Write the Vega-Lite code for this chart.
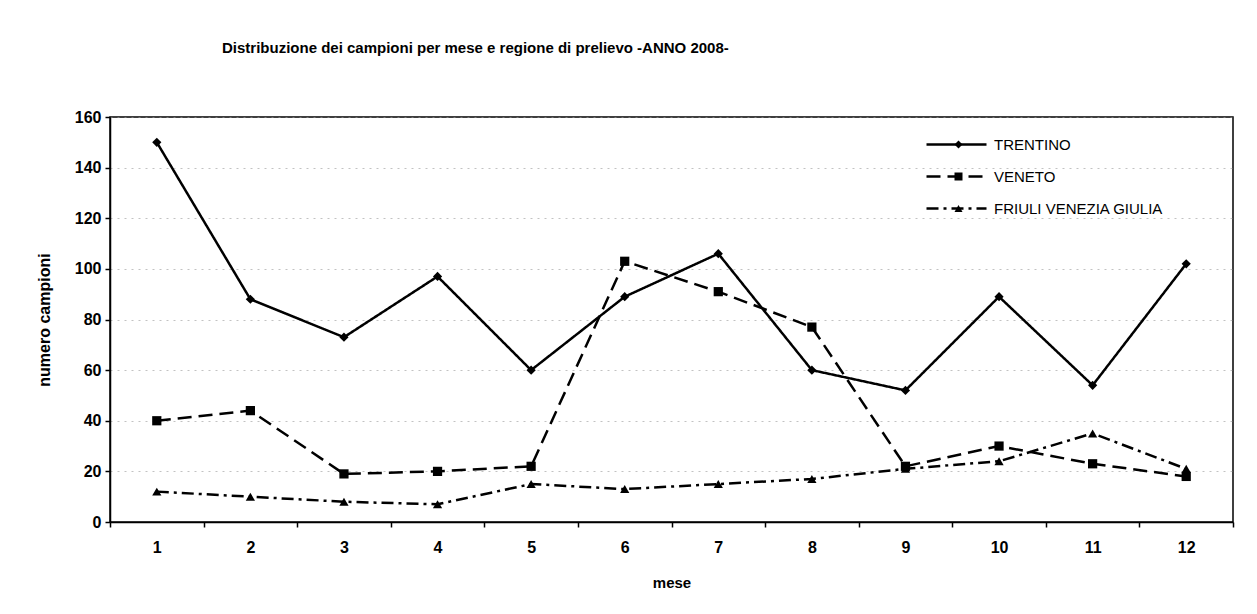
{
  "$schema": "https://vega.github.io/schema/vega-lite/v6.json",
  "width": 1123,
  "height": 405,
  "autosize": {"type": "none"},
  "padding": {"left": 110, "top": 117, "right": 24, "bottom": 92},
  "background": "white",
  "config": {
    "font": "Liberation Sans",
    "view": {"stroke": "#000", "strokeWidth": 1.5}
  },
  "title": {
    "text": "Distribuzione dei campioni per mese e regione di prelievo -ANNO 2008-",
    "anchor": "start",
    "frame": "group",
    "dx": 112,
    "offset": 53,
    "fontSize": 15,
    "fontWeight": "bold",
    "color": "#000"
  },
  "data": {
    "values": [
      {"mese": 1, "regione": "TRENTINO", "campioni": 150},
      {"mese": 2, "regione": "TRENTINO", "campioni": 88},
      {"mese": 3, "regione": "TRENTINO", "campioni": 73},
      {"mese": 4, "regione": "TRENTINO", "campioni": 97},
      {"mese": 5, "regione": "TRENTINO", "campioni": 60},
      {"mese": 6, "regione": "TRENTINO", "campioni": 89},
      {"mese": 7, "regione": "TRENTINO", "campioni": 106},
      {"mese": 8, "regione": "TRENTINO", "campioni": 60},
      {"mese": 9, "regione": "TRENTINO", "campioni": 52},
      {"mese": 10, "regione": "TRENTINO", "campioni": 89},
      {"mese": 11, "regione": "TRENTINO", "campioni": 54},
      {"mese": 12, "regione": "TRENTINO", "campioni": 102},
      {"mese": 1, "regione": "VENETO", "campioni": 40},
      {"mese": 2, "regione": "VENETO", "campioni": 44},
      {"mese": 3, "regione": "VENETO", "campioni": 19},
      {"mese": 4, "regione": "VENETO", "campioni": 20},
      {"mese": 5, "regione": "VENETO", "campioni": 22},
      {"mese": 6, "regione": "VENETO", "campioni": 103},
      {"mese": 7, "regione": "VENETO", "campioni": 91},
      {"mese": 8, "regione": "VENETO", "campioni": 77},
      {"mese": 9, "regione": "VENETO", "campioni": 22},
      {"mese": 10, "regione": "VENETO", "campioni": 30},
      {"mese": 11, "regione": "VENETO", "campioni": 23},
      {"mese": 12, "regione": "VENETO", "campioni": 18},
      {"mese": 1, "regione": "FRIULI VENEZIA GIULIA", "campioni": 12},
      {"mese": 2, "regione": "FRIULI VENEZIA GIULIA", "campioni": 10},
      {"mese": 3, "regione": "FRIULI VENEZIA GIULIA", "campioni": 8},
      {"mese": 4, "regione": "FRIULI VENEZIA GIULIA", "campioni": 7},
      {"mese": 5, "regione": "FRIULI VENEZIA GIULIA", "campioni": 15},
      {"mese": 6, "regione": "FRIULI VENEZIA GIULIA", "campioni": 13},
      {"mese": 7, "regione": "FRIULI VENEZIA GIULIA", "campioni": 15},
      {"mese": 8, "regione": "FRIULI VENEZIA GIULIA", "campioni": 17},
      {"mese": 9, "regione": "FRIULI VENEZIA GIULIA", "campioni": 21},
      {"mese": 10, "regione": "FRIULI VENEZIA GIULIA", "campioni": 24},
      {"mese": 11, "regione": "FRIULI VENEZIA GIULIA", "campioni": 35},
      {"mese": 12, "regione": "FRIULI VENEZIA GIULIA", "campioni": 21}
    ]
  },
  "encoding": {
    "x": {
      "field": "mese",
      "type": "ordinal",
      "bandPosition": 0.5,
      "scale": {"type": "band", "paddingInner": 0, "paddingOuter": 0},
      "axis": {
        "title": "mese",
        "labelAngle": 0,
        "tickBand": "extent",
        "tickSize": 5,
        "tickColor": "#000",
        "tickWidth": 1.5,
        "domainColor": "#000",
        "domainWidth": 1.5,
        "labelFontSize": 16,
        "labelFontWeight": "bold",
        "labelColor": "#000",
        "labelPadding": 12,
        "titleFontSize": 15,
        "titleFontWeight": "bold",
        "titleColor": "#000",
        "titlePadding": 20,
        "grid": false
      }
    },
    "y": {
      "field": "campioni",
      "type": "quantitative",
      "scale": {"domain": [0, 160], "nice": false},
      "axis": {
        "title": "numero campioni",
        "values": [0, 20, 40, 60, 80, 100, 120, 140, 160],
        "tickSize": 5,
        "tickColor": "#000",
        "tickWidth": 1.5,
        "domainColor": "#000",
        "domainWidth": 1.5,
        "labelFontSize": 16,
        "labelFontWeight": "bold",
        "labelColor": "#000",
        "labelPadding": 4,
        "titleFontSize": 16,
        "titleFontWeight": "bold",
        "titleColor": "#000",
        "titlePadding": 22,
        "grid": true,
        "gridColor": "#999",
        "gridDash": [2, 5],
        "gridOpacity": 0.6
      }
    }
  },
  "layer": [
    {
      "mark": {"type": "line", "color": "#000", "strokeWidth": 2.5},
      "encoding": {
        "strokeDash": {
          "field": "regione",
          "type": "nominal",
          "sort": ["TRENTINO", "VENETO", "FRIULI VENEZIA GIULIA"],
          "scale": {"range": [[1, 0], [14, 7], [12, 5, 3, 5]]},
          "legend": {
            "title": null,
            "orient": "none",
            "legendX": 839,
            "legendY": 20,
            "padding": 0,
            "symbolType": "M-5,0H5",
            "symbolSize": 144,
            "symbolStrokeWidth": 2.5,
            "symbolStrokeColor": "#000",
            "symbolFillColor": "transparent",
            "labelFontSize": 15,
            "labelColor": "#000",
            "labelOffset": 30,
            "labelLimit": 0,
            "rowPadding": 16
          }
        }
      }
    },
    {
      "mark": {"type": "point", "filled": true, "color": "#000", "opacity": 1, "size": 85},
      "encoding": {
        "shape": {
          "field": "regione",
          "type": "nominal",
          "scale": {
            "domain": ["TRENTINO", "VENETO", "FRIULI VENEZIA GIULIA"],
            "range": ["diamond", "square", "triangle-up"]
          },
          "legend": {
            "title": null,
            "orient": "none",
            "legendX": 841,
            "legendY": 20,
            "padding": 0,
            "symbolSize": 64,
            "symbolFillColor": "#000",
            "symbolStrokeColor": "#000",
            "symbolStrokeWidth": 0,
            "symbolOpacity": 1,
            "labelFontSize": 15,
            "labelOpacity": 0,
            "labelOffset": 30,
            "labelLimit": 0,
            "rowPadding": 16
          }
        }
      }
    }
  ]
}
